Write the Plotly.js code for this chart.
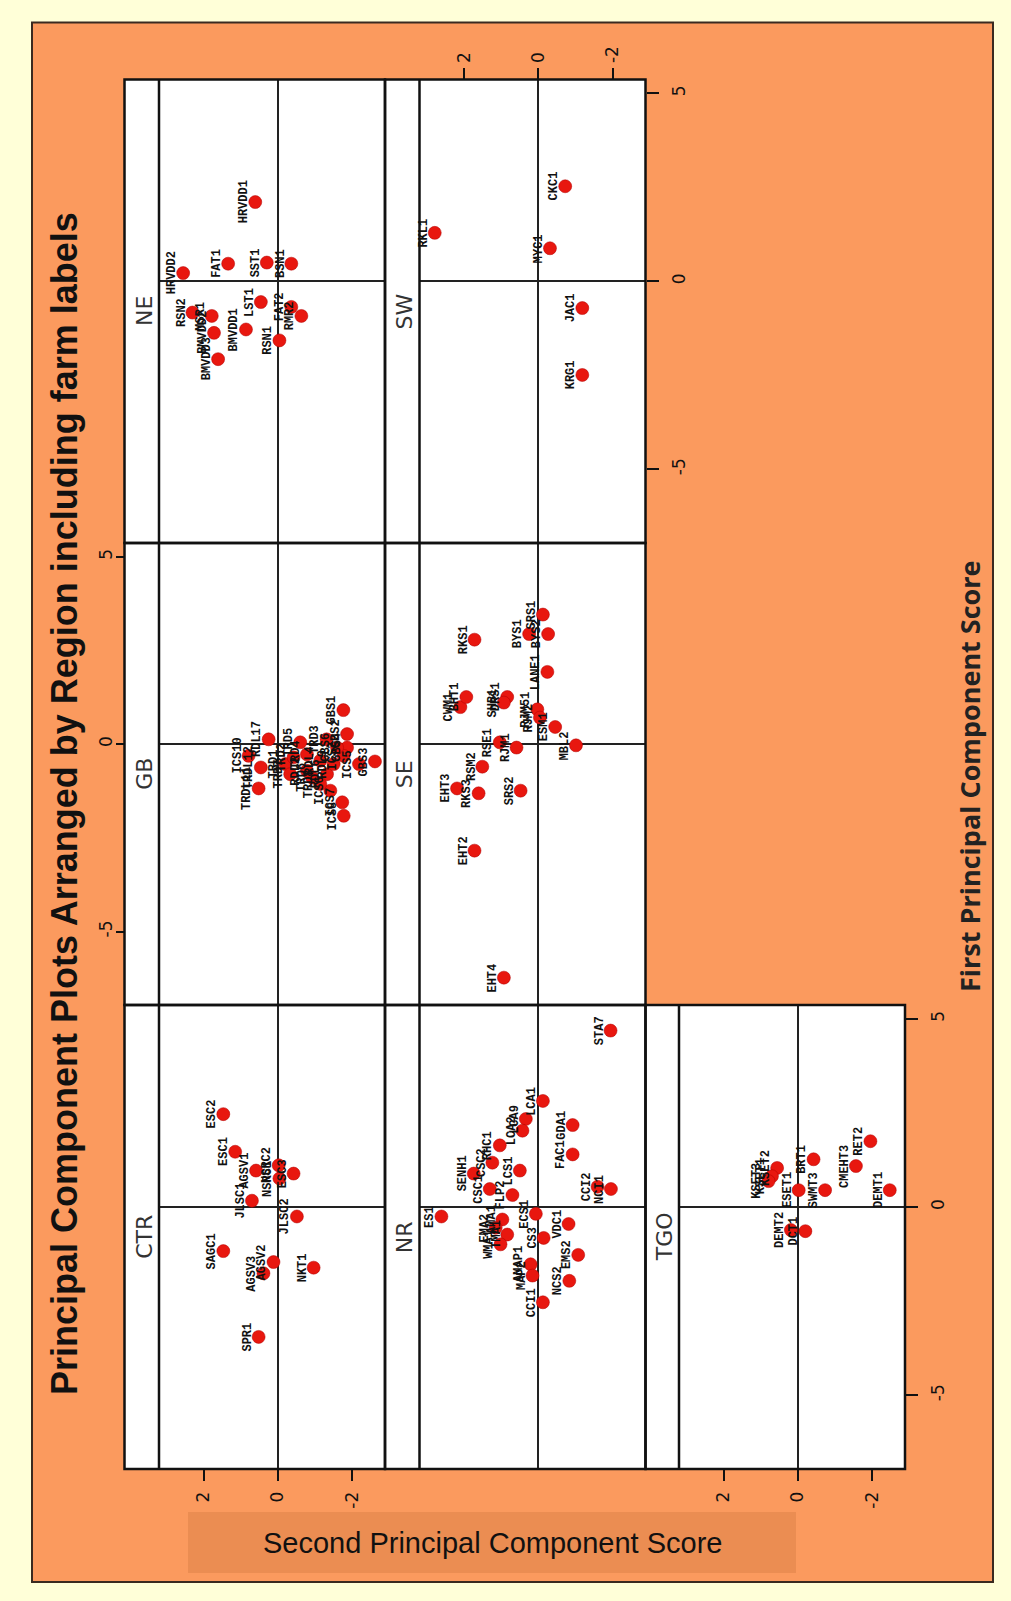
<!DOCTYPE html>
<html>
<head>
<meta charset="utf-8">
<script src="https://cdn.plot.ly/plotly-3.0.1.min.js"></script>
<style>html,body{margin:0;padding:0;background:#FFFFD8;}#chart{width:1011px;height:1601px;}</style>
</head>
<body>
<div id="chart"></div>
<script>
// ---------------- DATA ----------------
// PC2 = Second Principal Component Score, PC1 = First Principal Component Score
const regions = ["CTR", "GB", "NE", "NR", "SE", "SW", "TGO"];

const ctrLabels = ["ESC2","ESC1","AGSV1","NSRC2","NSRC1","ESC3","JLSC1","JLSC2","SAGC1","AGSV2","AGSV3","NKT1","SPR1"];
const ctrPC2 = [1.47, 1.15, 0.59, -0.02, -0.04, -0.42, 0.70, -0.51, 1.47, 0.12, 0.39, -0.96, 0.52];
const ctrPC1 = [2.47, 1.47, 0.97, 1.11, 0.76, 0.89, 0.17, -0.25, -1.17, -1.46, -1.76, -1.61, -3.45];

const gbLabels = ["GBS1","GBS2","GBS4","ICS2","ICS5","GBS3","TRD3","TRD5","RDL17","ICS10","TRDL12","TRDL11","TRD1","TRD2","TRD4","TRD6","RDL4","RDL6","ICS6","ICS7","ICS8","RDL9","TRD8","GBS6","RDL2","TRD7"];
const gbPC2 = [-1.76, -1.86, -1.86, -1.77, -2.18, -2.61, -1.31, -0.60, 0.25, 0.79, 0.46, 0.52, -0.20, -0.42, -0.78, -0.92, -1.14, -1.32, -1.41, -1.73, -1.77, -1.50, -1.14, -1.59, -0.78, -0.33];
const gbPC1 = [0.91, 0.27, -0.09, -0.31, -0.53, -0.46, 0.13, 0.05, 0.13, -0.31, -0.62, -1.18, -0.53, -0.35, -0.27, -0.89, -0.44, -0.80, -1.24, -1.55, -1.91, -0.53, -1.06, -0.09, -0.71, -0.80];

const neLabels = ["HRVDD1","HRVDD2","FAT1","SST1","BSN1","RSN2","MSR1","BMVDD2","BMVDD3","BMVDD1","LST1","RSN1","FAT2","RMR2"];
const nePC2 = [0.61, 2.55, 1.34, 0.30, -0.36, 2.30, 1.78, 1.72, 1.61, 0.86, 0.46, -0.04, -0.36, -0.63];
const nePC1 = [2.11, 0.22, 0.47, 0.50, 0.47, -0.83, -0.92, -1.37, -2.07, -1.28, -0.55, -1.57, -0.68, -0.92];

const nrLabels = ["STA7","LCA1","LCA9","LCA2","GDA1","FAC1","RHC1","CSC2","SENH1","LCS1","CSC1","FLP2","CCI2","NCI1","ES1","ECS1","AMA1","EMA2","TMA1","WMA1","CS3","VDC1","EMS2","NCS2","AMAP1","MAP2","CCI1"];
const nrPC2 = [-1.94, -0.12, 0.34, 0.43, -0.92, -0.92, 1.04, 1.24, 1.74, 0.50, 1.31, 0.70, -1.59, -1.95, 2.61, 0.07, 0.97, 1.15, 0.84, 1.02, -0.14, -0.81, -1.07, -0.83, 0.21, 0.16, -0.12];
const nrPC1 = [4.69, 2.82, 2.34, 2.03, 2.18, 1.40, 1.64, 1.18, 0.89, 0.97, 0.48, 0.32, 0.54, 0.48, -0.25, -0.18, -0.33, -0.55, -0.73, -0.99, -0.82, -0.45, -1.27, -1.96, -1.52, -1.82, -2.53];

const seLabels = ["RKS1","SRS1","BYS1","BYS2","LANE1","CWM1","BHT1","DRS1","SHB1","RJM51","RJM2","ESM1","RSE1","RJM1","MBL2","RSM2","EHT3","RKS3","SRS2","EHT2","EHT4"];
const sePC2 = [1.72, -0.12, 0.25, -0.26, -0.24, 2.10, 1.94, 0.84, 0.93, 0.03, -0.04, -0.45, 1.04, 0.59, -1.01, 1.51, 2.19, 1.61, 0.48, 1.72, 0.93];
const sePC1 = [2.79, 3.46, 2.94, 2.94, 1.93, 0.99, 1.26, 1.26, 1.11, 0.93, 0.71, 0.46, 0.05, -0.09, -0.03, -0.60, -1.18, -1.31, -1.24, -2.84, -6.23];

const swLabels = ["RKL1","CKC1","MYC1","JAC1","KRG1"];
const swPC2 = [2.79, -0.72, -0.31, -1.18, -1.18];
const swPC1 = [1.29, 2.53, 0.88, -0.71, -2.49];

const tgoLabels = ["RET2","CMEHT3","DEMT1","BRT1","SWMT3","ESET1","KSET2","KSET1","KSET3","DEMT2","DCT1"];
const tgoPC2 = [-1.95, -1.56, -2.47, -0.42, -0.73, -0.02, 0.56, 0.70, 0.79, 0.19, -0.20];
const tgoPC1 = [1.75, 1.09, 0.45, 1.27, 0.45, 0.45, 1.04, 0.82, 0.69, -0.61, -0.64];

const pc2TickVals = [2, 0, -2];
const pc2TickText = ["2", "0", "-2"];
const pc1TickVals = [5, 0, -5];
const pc1TickText = ["5", "0", "-5"];

const titleText = "Principal Component Plots Arranged by Region including farm labels";
const xTitleText = "Second Principal Component Score";
const yTitleText = "First Principal Component Score";

// ---------------- LAYOUT GEOMETRY ----------------
const W = 1011, H = 1601;
const fx = v => v / W;
const fy = v => 1 - v / H;

const cols = {
  A: {strip: [124.5, 159], data: [159, 385]},
  B: {strip: [385, 419.5], data: [419.5, 645.5]},
  C: {strip: [645.5, 679], data: [679, 905]}
};
const rows = {
  top: [79.5, 543],
  mid: [543, 1005],
  bot: [1005, 1469]
};
const pc2Range = [3.20, -2.88];
const pc1Range = [-6.96, 5.37];

const panels = [
  {name: "CTR", col: "A", row: "bot", labels: ctrLabels, x: ctrPC2, y: ctrPC1},
  {name: "GB",  col: "A", row: "mid", labels: gbLabels,  x: gbPC2,  y: gbPC1},
  {name: "NE",  col: "A", row: "top", labels: neLabels,  x: nePC2,  y: nePC1},
  {name: "NR",  col: "B", row: "bot", labels: nrLabels,  x: nrPC2,  y: nrPC1},
  {name: "SE",  col: "B", row: "mid", labels: seLabels,  x: sePC2,  y: sePC1},
  {name: "SW",  col: "B", row: "top", labels: swLabels,  x: swPC2,  y: swPC1},
  {name: "TGO", col: "C", row: "bot", labels: tgoLabels, x: tgoPC2, y: tgoPC1}
];

const tickFont = {family: "DejaVu Sans", size: 17, color: "#111"};
const traces = [];
const annotations = [];
const layout = {
  width: W, height: H,
  margin: {l: 0, r: 0, t: 0, b: 0},
  paper_bgcolor: "#FFFFD8",
  plot_bgcolor: "rgba(0,0,0,0)",
  showlegend: false,
  shapes: [],
  annotations: annotations
};

// background orange box + axis-title box
layout.shapes.push({type: "rect", xref: "paper", yref: "paper", layer: "below",
  x0: fx(32), x1: fx(993), y0: fy(22.5), y1: fy(1582),
  fillcolor: "#FB9A5E", line: {color: "#3a2a20", width: 2}});
layout.shapes.push({type: "rect", xref: "paper", yref: "paper", layer: "below",
  x0: fx(188), x1: fx(796), y0: fy(1512), y1: fy(1573),
  fillcolor: "#EB8D52", line: {width: 0}});

panels.forEach((p, i) => {
  const k = i + 1;
  const xs = "x" + (k === 1 ? "" : k), ys = "y" + (k === 1 ? "" : k);
  const xa = "xaxis" + (k === 1 ? "" : k), ya = "yaxis" + (k === 1 ? "" : k);
  const c = cols[p.col], r = rows[p.row];

  traces.push({type: "scatter", mode: "markers", name: p.name,
    x: p.x, y: p.y, xaxis: xs, yaxis: ys, text: p.labels,
    marker: {size: 13, color: "#E8170F", line: {width: 0.5, color: "#B00000"}},
    hoverinfo: "text"});

  const xAxis = {domain: [fx(c.data[0]), fx(c.data[1])], range: pc2Range, anchor: ys,
    showgrid: false, zeroline: true, zerolinecolor: "#222", zerolinewidth: 2,
    showline: false, showticklabels: false, ticks: "", fixedrange: true};
  const yAxis = {domain: [fy(r[1]), fy(r[0])], range: pc1Range, anchor: xs,
    showgrid: false, zeroline: true, zerolinecolor: "#222", zerolinewidth: 2,
    showline: false, showticklabels: false, ticks: "", fixedrange: true};

  const xTickOn = {showticklabels: true, ticks: "outside", ticklen: 11, tickwidth: 2, tickcolor: "#111",
    tickmode: "array", tickvals: pc2TickVals, ticktext: pc2TickText, tickangle: -90, tickfont: tickFont, ticklabelstandoff: 4};
  const yTickOn = {showticklabels: true, ticks: "outside", ticklen: 12, tickwidth: 2, tickcolor: "#111",
    tickmode: "array", tickvals: pc1TickVals, ticktext: pc1TickText, tickangle: -90, tickfont: tickFont, ticklabelstandoff: 6};

  if (p.name === "CTR" || p.name === "TGO") Object.assign(xAxis, xTickOn, {side: "bottom"});
  if (p.name === "SW") Object.assign(xAxis, xTickOn, {side: "top", ticklabelstandoff: 1});
  if (p.name === "SW" || p.name === "TGO") Object.assign(yAxis, yTickOn, {side: "right"});
  if (p.name === "GB") Object.assign(yAxis, yTickOn, {side: "left", anchor: "free", position: fx(c.strip[0]), ticklen: 9, ticklabelstandoff: -3});

  layout[xa] = xAxis;
  layout[ya] = yAxis;

  // white panel background (strip + data)
  layout.shapes.push({type: "rect", xref: "paper", yref: "paper", layer: "below",
    x0: fx(c.strip[0]), x1: fx(c.data[1]), y0: fy(r[1]), y1: fy(r[0]),
    fillcolor: "#FFFFFF", line: {width: 0}});
  // border
  layout.shapes.push({type: "rect", xref: "paper", yref: "paper", layer: "above",
    x0: fx(c.strip[0]), x1: fx(c.data[1]), y0: fy(r[1]), y1: fy(r[0]),
    fillcolor: "rgba(0,0,0,0)", line: {color: "#111", width: 2.5}});
  // strip divider
  layout.shapes.push({type: "line", xref: "paper", yref: "paper", layer: "above",
    x0: fx(c.strip[1]), x1: fx(c.strip[1]), y0: fy(r[1]), y1: fy(r[0]),
    line: {color: "#111", width: 2.5}});

  // strip label
  annotations.push({xref: "paper", yref: "paper", x: fx((c.strip[0] + c.strip[1]) / 2 + 2),
    y: fy((r[0] + r[1]) / 2), text: p.name, textangle: -90, showarrow: false,
    xanchor: "center", yanchor: "middle", font: {family: "DejaVu Sans", size: 22, color: "#333"}});

  // point labels
  p.labels.forEach((lab, j) => {
    annotations.push({xref: xs, yref: ys, x: p.x[j], y: p.y[j], text: lab,
      textangle: -90, showarrow: false, xanchor: "right", yanchor: "middle", xshift: -3,
      borderpad: 0,
      font: {family: "Liberation Mono", size: 12, color: "#111", weight: "bold"}});
  });
});

// titles
annotations.push({xref: "paper", yref: "paper", x: fx(64), y: fy(804), text: titleText,
  textangle: -90, showarrow: false, xanchor: "center", yanchor: "middle",
  font: {family: "Liberation Sans", size: 36, color: "#111", weight: "bold"}});
annotations.push({xref: "paper", yref: "paper", x: fx(492), y: fy(1543), text: xTitleText,
  showarrow: false, xanchor: "center", yanchor: "middle",
  font: {family: "Liberation Sans", size: 29, color: "#111"}});
annotations.push({xref: "paper", yref: "paper", x: fx(969), y: fy(776), text: yTitleText,
  textangle: -90, showarrow: false, xanchor: "center", yanchor: "middle",
  font: {family: "Open Sans", size: 27, color: "#222", weight: "bold"}});

Plotly.newPlot("chart", traces, layout, {staticPlot: true, displayModeBar: false});
</script>
</body>
</html>
